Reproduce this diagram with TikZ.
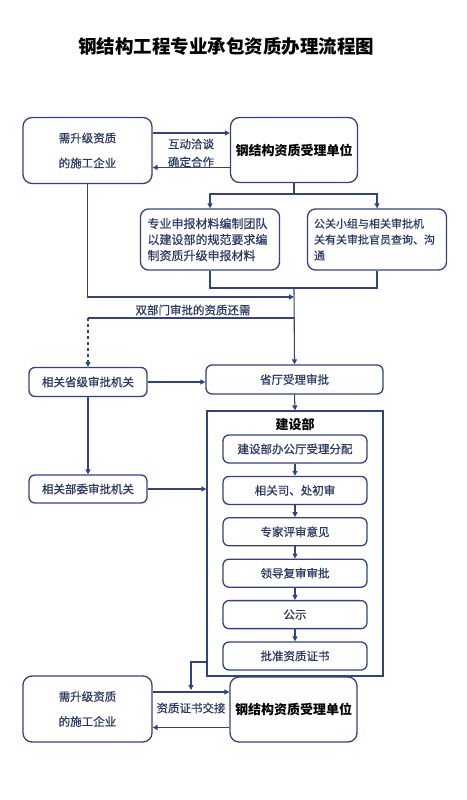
\documentclass[tikz,border=0pt]{standalone}
\usepackage{fontspec}
\setmainfont{Noto Sans CJK SC}
\newfontfamily\medfont{Noto Sans CJK SC}[FakeBold=0.7]
\usepackage{xcolor}
\definecolor{navy}{HTML}{34437A}
\definecolor{ink}{HTML}{2C3A63}
\usepackage{tikz}
\usetikzlibrary{arrows.meta,positioning,calc}

\begin{document}
\begin{tikzpicture}[
  x=1pt,
  y=-1pt,
  color=navy,
  line width=1.1pt,
  arr/.style={-{Triangle[length=5pt,width=5pt]}},
  firm/.style={draw=navy, fill=white, rounded corners=9pt, line width=1.3pt, minimum width=129pt, minimum height=66pt, align=center, text=ink, font=\medfont\fontsize{11.5}{25}\selectfont},
  unit/.style={draw=navy, fill=white, rounded corners=9pt, line width=1.3pt, minimum width=127pt, minimum height=65pt, text=black, font=\fontsize{13}{15}\selectfont\bfseries},
  task/.style={draw=navy, rounded corners=8pt, line width=1.3pt, minimum width=139pt, minimum height=61pt, align=left, inner sep=6pt, text=ink, font=\medfont\fontsize{12}{16}\selectfont},
  sidebox/.style={draw=navy, rounded corners=6pt, line width=1.3pt, minimum width=118pt, minimum height=29pt, text=ink, font=\medfont\fontsize{11.5}{14}\selectfont},
  stagebox/.style={draw=navy, fill=white, rounded corners=6pt, line width=1.3pt, minimum width=144pt, minimum height=28pt, text=ink, font=\medfont\fontsize{11.5}{14}\selectfont},
  lbl/.style={text=ink, align=center, font=\medfont\fontsize{11.5}{18}\selectfont},
]
\useasboundingbox (0,0) rectangle (466,800);

% Title
\node[text=black, font=\fontsize{18.5}{20}\selectfont\bfseries] (title) at (226,46) {钢结构工程专业承包资质办理流程图};

% Top row
\node[firm] (firmA) at (87.5,150.5) {需升级资质\\的施工企业};
\node[unit] (unitA) at (294,150) {钢结构资质受理单位};
\node[lbl] (talk) at (191,153) {互动洽谈\\确定合作};

% Preparation
\node[task, text width=125pt] (team) at (210,239.5) {专业申报材料编制团队\\以建设部的规范要求编\\制资质升级申报材料};
\node[task, text width=126pt, font=\medfont\fontsize{11}{16}\selectfont] (pr) at (377,239.5) {公关小组与相关审批机\\关有关审批官员查询、沟\\通};

% Approval
\node[sidebox] (prov) at (88,382) {相关省级审批机关};
\node[sidebox, minimum width=177pt] (hall) at (294.5,379.5) {省厅受理审批};
\node[sidebox, minimum height=28pt] (ministry) at (88,489) {相关部委审批机关};

% Ministry of construction
\node[draw=navy, line width=1.3pt, minimum width=176pt, minimum height=265pt] (moh) at (295,543.5) {};
\node[text=black, font=\fontsize{13}{15}\selectfont\bfseries] (mohT) at (295,424) {建设部};
\foreach \t [count=\i] in {建设部办公厅受理分配, 相关司、处初审, 专家评审意见, 领导复审审批, 公示, 批准资质证书}
  \node[stagebox] (s\i) at (295,{449+41.4*(\i-1)}) {\t};

% Bottom row
\node[firm] (firmB) at (87.5,709) {需升级资质\\的施工企业};
\node[unit] (unitB) at (293.5,709.5) {钢结构资质受理单位};
\node[lbl] (swap) at (191,708) {资质证书交接};

% Connectors
\draw[arr] ([yshift=17.5pt]firmA.east) -- ([yshift=17.5pt]firmA.east -| unitA.west);
\draw[arr] ([yshift=-17.5pt]unitA.west) -- ([yshift=-17.5pt]unitA.west -| firmA.east);

\coordinate (sp) at (294,194);
\draw (unitA.south) -- (sp);
\draw[arr] (sp) -| (team.north);
\draw[arr] (sp) -| (pr.north);

\coordinate (jn) at (294,288);
\draw (team.south) |- (jn) -| (pr.south);
\coordinate (mg) at (294,297);
\draw[arr] (firmA.south) |- (mg);
\draw[arr] (jn) -- (hall.north);

\coordinate (br) at (294,318);
\draw (br) -- (br -| prov.north) coordinate (brl);
\draw[arr, dashed] (brl) -- (prov.north);
\node[lbl] (twin) at (193,310) {双部门审批的资质还需};

\draw[arr] (prov.east) -- (prov.east -| hall.west);
\draw[arr] (hall.south) -- (moh.north);
\draw[arr] (prov.south) -- (ministry.north);
\draw[arr] (ministry.east) -- (ministry.east -| moh.west);

\foreach \i [evaluate=\i as \j using int(\i+1)] in {1,...,5}
  \draw[arr] (s\i) -- (s\j);

\coordinate (hand) at (191,690);
\draw[arr] (moh.west |- 0,662) -| (hand);

\draw[arr] ([yshift=17pt]firmB.east) -- ([yshift=17pt]firmB.east -| unitB.west);
\draw[arr] ([yshift=-18pt]unitB.west) -- ([yshift=-18pt]unitB.west -| firmB.east);

\end{tikzpicture}
\end{document}
